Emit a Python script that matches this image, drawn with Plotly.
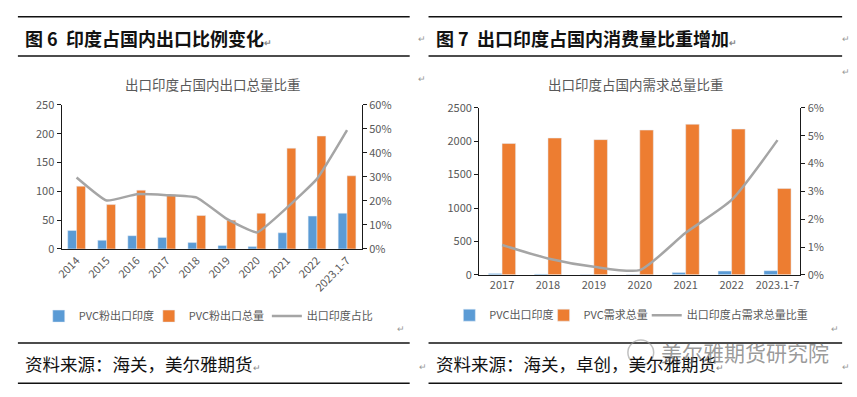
import plotly.graph_objects as go

W, H = 857, 397

# ---------- data ----------
cats_left = ["2014", "2015", "2016", "2017", "2018", "2019", "2020", "2021", "2022", "2023.1-7"]
india_left = [32, 15, 23, 20, 11, 6, 4, 28, 57, 62]
total_left = [109, 77, 102, 94, 58, 50, 62, 175, 196, 127]
share_left = [0.298, 0.202, 0.228, 0.224, 0.214, 0.125, 0.069, 0.172, 0.292, 0.495]

cats_right = ["2017", "2018", "2019", "2020", "2021", "2022", "2023.1-7"]
india_right = [21, 12, 6, 4, 34, 57, 62]
demand_right = [1966, 2048, 2024, 2167, 2254, 2182, 1292]
share_right = [0.0107, 0.0059, 0.0029, 0.0017, 0.0151, 0.0269, 0.0484]

BLUE = "#5B9BD5"
ORANGE = "#ED7D31"
GRAY = "#A5A5A5"
TXT = "#595959"
FONT = "Noto Sans CJK SC"


def px(x):
    return x / W


def py(y):
    return 1 - y / H


fig = go.Figure()

# left chart
fig.add_trace(go.Bar(x=cats_left, y=india_left, name="PVC粉出口印度", marker_color=BLUE,
                     xaxis="x", yaxis="y", legend="legend", showlegend=True))
fig.add_trace(go.Bar(x=cats_left, y=total_left, name="PVC粉出口总量", marker_color=ORANGE,
                     xaxis="x", yaxis="y", legend="legend2", showlegend=True))
fig.add_trace(go.Scatter(x=cats_left, y=share_left, name="出口印度占比", mode="lines",
                         line=dict(color=GRAY, width=2.5, shape="spline", smoothing=0.4),
                         xaxis="x", yaxis="y2", legend="legend3", showlegend=True))

# right chart
fig.add_trace(go.Bar(x=cats_right, y=india_right, name="PVC出口印度", marker_color=BLUE,
                     xaxis="x2", yaxis="y3", legend="legend4", showlegend=True))
fig.add_trace(go.Bar(x=cats_right, y=demand_right, name="PVC需求总量", marker_color=ORANGE,
                     xaxis="x2", yaxis="y3", legend="legend5", showlegend=True))
fig.add_trace(go.Scatter(x=cats_right, y=share_right, name="出口印度占需求总量比重", mode="lines",
                         line=dict(color=GRAY, width=2.5, shape="spline", smoothing=0.6),
                         xaxis="x2", yaxis="y4", legend="legend6", showlegend=True))

axis_common = dict(showgrid=False, zeroline=False, showline=True, linecolor="#1a1a1a", linewidth=1,
                   tickfont=dict(size=11, color=TXT, family=FONT))
yaxis_common = dict(axis_common, ticks="outside", ticklen=4, tickcolor="#1a1a1a")

legend_common = dict(orientation="h", xanchor="left", yanchor="middle",
                     font=dict(size=11, color=TXT, family=FONT), bgcolor="rgba(0,0,0,0)",
                     itemwidth=30, tracegroupgap=0, visible=True)

# text start x positions of legend entries (pixels) and their row y
leg_left_x = [74, 185, 304]
leg_right_x = [488, 583, 687]
leg_y_left = 320
leg_y_right = 319
legends = {}
names = ["legend", "legend2", "legend3", "legend4", "legend5", "legend6"]
for i, xx in enumerate(leg_left_x + leg_right_x):
    yy = leg_y_left if i < 3 else leg_y_right
    legends[names[i]] = dict(legend_common, x=px(xx - 42), y=py(yy))

shapes = []
for (x0, x1) in [(11, 406), (425, 842)]:
    for yy in [8, 49, 348, 390]:
        shapes.append(dict(type="line", xref="paper", yref="paper", x0=px(x0), x1=px(x1),
                           y0=py(yy), y1=py(yy), line=dict(color="#111", width=1.5)))
# watermark logo circle
shapes.append(dict(type="circle", xref="paper", yref="paper", x0=px(626), x1=px(652),
                   y0=py(371), y1=py(345), line=dict(color="rgba(150,150,150,0.6)", width=1.5)))

ann = []


def text(x, y, t, size, color="#111", anchor="left", bold=False, family=FONT):
    if bold:
        t = "<b>" + t + "</b>"
    ann.append(dict(x=px(x), y=py(y), xref="paper", yref="paper", text=t, showarrow=False,
                    xanchor=anchor, yanchor="middle",
                    font=dict(size=size, color=color, family=family)))


mark = "<span style='font-size:9px;color:#888'>↵</span>"
text(16, 30, "图 6  印度占国内出口比例变化" + mark, 18, bold=True)
text(431, 30, "图 7  出口印度占国内消费量比重增加" + mark, 18, bold=True)
text(208, 78, "出口印度占国内出口总量比重", 13.5, TXT, "center")
text(634, 78, "出口印度占国内需求总量比重", 13.5, TXT, "center")
text(16, 369, "资料来源：海关，美尔雅期货" + mark, 17.5)
text(431, 369, "资料来源：海关，卓创，美尔雅期货" + mark, 17.5)
text(744, 357, "美尔雅期货研究院", 21, "rgba(110,110,110,0.7)", "center")
for (x, y) in [(418, 31), (418, 72), (397, 333), (419, 372), (846, 31), (846, 65), (835, 333), (846, 372)]:
    text(x, y, "↵", 9, "#999", "center")

fig.update_layout(
    width=W, height=H, margin=dict(l=0, r=0, t=0, b=0),
    paper_bgcolor="white", plot_bgcolor="white",
    showlegend=True,
    barmode="group", bargap=0.41, bargroupgap=0,
    font=dict(family=FONT, color=TXT),
    xaxis=dict(axis_common, domain=[px(55), px(358)], anchor="y", tickangle=-45, ticks=""),
    yaxis=dict(yaxis_common, domain=[py(250), py(100)], anchor="x", range=[0, 250], dtick=50),
    yaxis2=dict(yaxis_common, overlaying="y", side="right", anchor="x", range=[0, 0.6], dtick=0.1,
                tickformat=".0%"),
    xaxis2=dict(axis_common, domain=[px(476), px(800)], anchor="y3", ticks=""),
    yaxis3=dict(yaxis_common, domain=[py(277), py(103)], anchor="x2", range=[0, 2500], dtick=500),
    yaxis4=dict(yaxis_common, overlaying="y3", side="right", anchor="x2", range=[0, 0.06], dtick=0.01,
                tickformat=".0%"),
    shapes=shapes,
    annotations=ann,
    **legends,
)

fig.write_html("out.html", config={"displayModeBar": False},
               post_script="document.body.style.margin='0';document.body.style.overflow='hidden';")
